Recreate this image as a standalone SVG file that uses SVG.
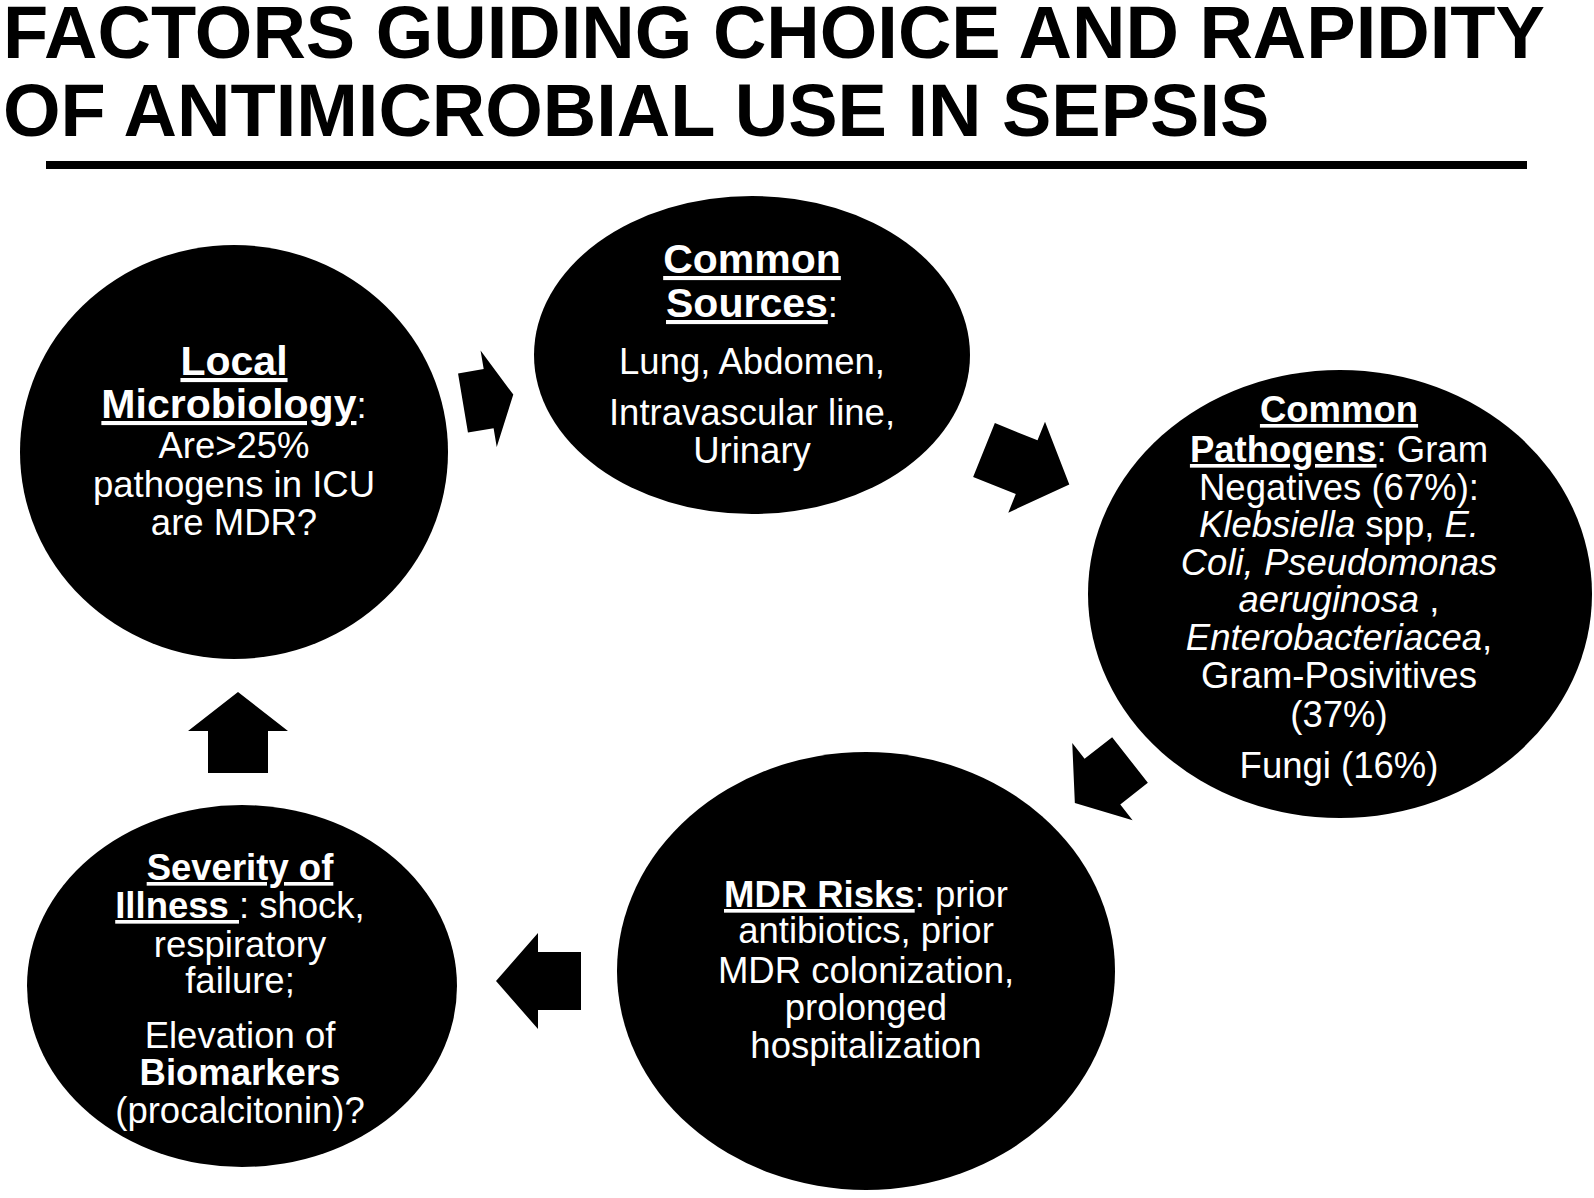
<svg xmlns="http://www.w3.org/2000/svg" width="1594" height="1198" viewBox="0 0 1594 1198">
<style>
.title{font-family:"Liberation Sans",Arial,sans-serif;font-weight:bold;font-size:74px;fill:#000}
.circ{fill:#000}
.t{font-family:"Liberation Sans",Arial,sans-serif;font-size:36.5px;fill:#fff;text-anchor:middle}
.b{font-weight:bold}
.big{font-size:41px}
.u{text-decoration:underline}
.i{font-style:italic}
.arrow{fill:#000}
</style>
<rect width="1594" height="1198" fill="#fff"/>
<g id="title">
<text class="title" x="3" y="58">FACTORS GUIDING CHOICE AND RAPIDITY</text>
<text class="title" x="3" y="136">OF ANTIMICROBIAL USE IN SEPSIS</text>
<rect x="46" y="161" width="1481" height="8" fill="#000"/>
</g>
<g id="connectors">
<polygon class="arrow" transform="translate(463,403) rotate(-9.5)" points="0,-30 26,-30 26,-49 51,0 26,49 26,30 0,30"/>
<polygon class="arrow" transform="translate(984,450) rotate(22)" points="0,-29 46,-29 46,-49 92,0 46,49 46,29 0,29"/>
<polygon class="arrow" transform="translate(1130,760) rotate(142)" points="0,-29 35,-29 35,-49 70,0 35,49 35,29 0,29"/>
<polygon class="arrow" transform="translate(581,981) rotate(180)" points="0,-29 43,-29 43,-48 85,0 43,48 43,29 0,29"/>
<polygon class="arrow" transform="translate(238,773) rotate(-90)" points="0,-30 42,-30 42,-50 81,0 42,50 42,30 0,30"/>
</g>
<g id="local-microbiology">
<ellipse class="circ" cx="234" cy="452" rx="214" ry="207"/>
<text class="t" x="234" y="375"><tspan class="b big u">Local</tspan></text>
<text class="t" x="234" y="418"><tspan class="b big u">Microbiology</tspan>:</text>
<text class="t" x="234" y="458">Are&gt;25%</text>
<text class="t" x="234" y="497">pathogens in ICU</text>
<text class="t" x="234" y="535">are MDR?</text>
</g>
<g id="common-sources">
<ellipse class="circ" cx="752" cy="355" rx="218" ry="159"/>
<text class="t" x="752" y="273"><tspan class="b big u">Common</tspan></text>
<text class="t" x="752" y="317"><tspan class="b big u">Sources</tspan>:</text>
<text class="t" x="752" y="374">Lung, Abdomen,</text>
<text class="t" x="752" y="425">Intravascular line,</text>
<text class="t" x="752" y="463">Urinary</text>
</g>
<g id="common-pathogens">
<ellipse class="circ" cx="1340" cy="594" rx="252" ry="224"/>
<text class="t" x="1339" y="422"><tspan class="b u">Common</tspan></text>
<text class="t" x="1339" y="462"><tspan class="b u">Pathogens</tspan>: Gram</text>
<text class="t" x="1339" y="500">Negatives (67%):</text>
<text class="t" x="1339" y="537"><tspan class="i">Klebsiella</tspan> spp, <tspan class="i">E.</tspan></text>
<text class="t" x="1339" y="575"><tspan class="i">Coli, Pseudomonas</tspan></text>
<text class="t" x="1339" y="612"><tspan class="i">aeruginosa</tspan> ,</text>
<text class="t" x="1339" y="650"><tspan class="i">Enterobacteriacea</tspan>,</text>
<text class="t" x="1339" y="688">Gram-Posivitives</text>
<text class="t" x="1339" y="727">(37%)</text>
<text class="t" x="1339" y="778">Fungi (16%)</text>
</g>
<g id="mdr-risks">
<ellipse class="circ" cx="866" cy="971" rx="249" ry="219"/>
<text class="t" x="866" y="907"><tspan class="b u">MDR Risks</tspan>: prior</text>
<text class="t" x="866" y="943">antibiotics, prior</text>
<text class="t" x="866" y="983">MDR colonization,</text>
<text class="t" x="866" y="1020">prolonged</text>
<text class="t" x="866" y="1058">hospitalization</text>
</g>
<g id="severity-of-illness">
<ellipse class="circ" cx="242" cy="986" rx="215" ry="181"/>
<text class="t" x="240" y="880"><tspan class="b u">Severity of</tspan></text>
<text class="t" x="240" y="918"><tspan class="b u">Illness </tspan>: shock,</text>
<text class="t" x="240" y="957">respiratory</text>
<text class="t" x="240" y="993">failure;</text>
<text class="t" x="240" y="1048">Elevation of</text>
<text class="t" x="240" y="1085"><tspan class="b">Biomarkers</tspan></text>
<text class="t" x="240" y="1123">(procalcitonin)?</text>
</g>
</svg>
